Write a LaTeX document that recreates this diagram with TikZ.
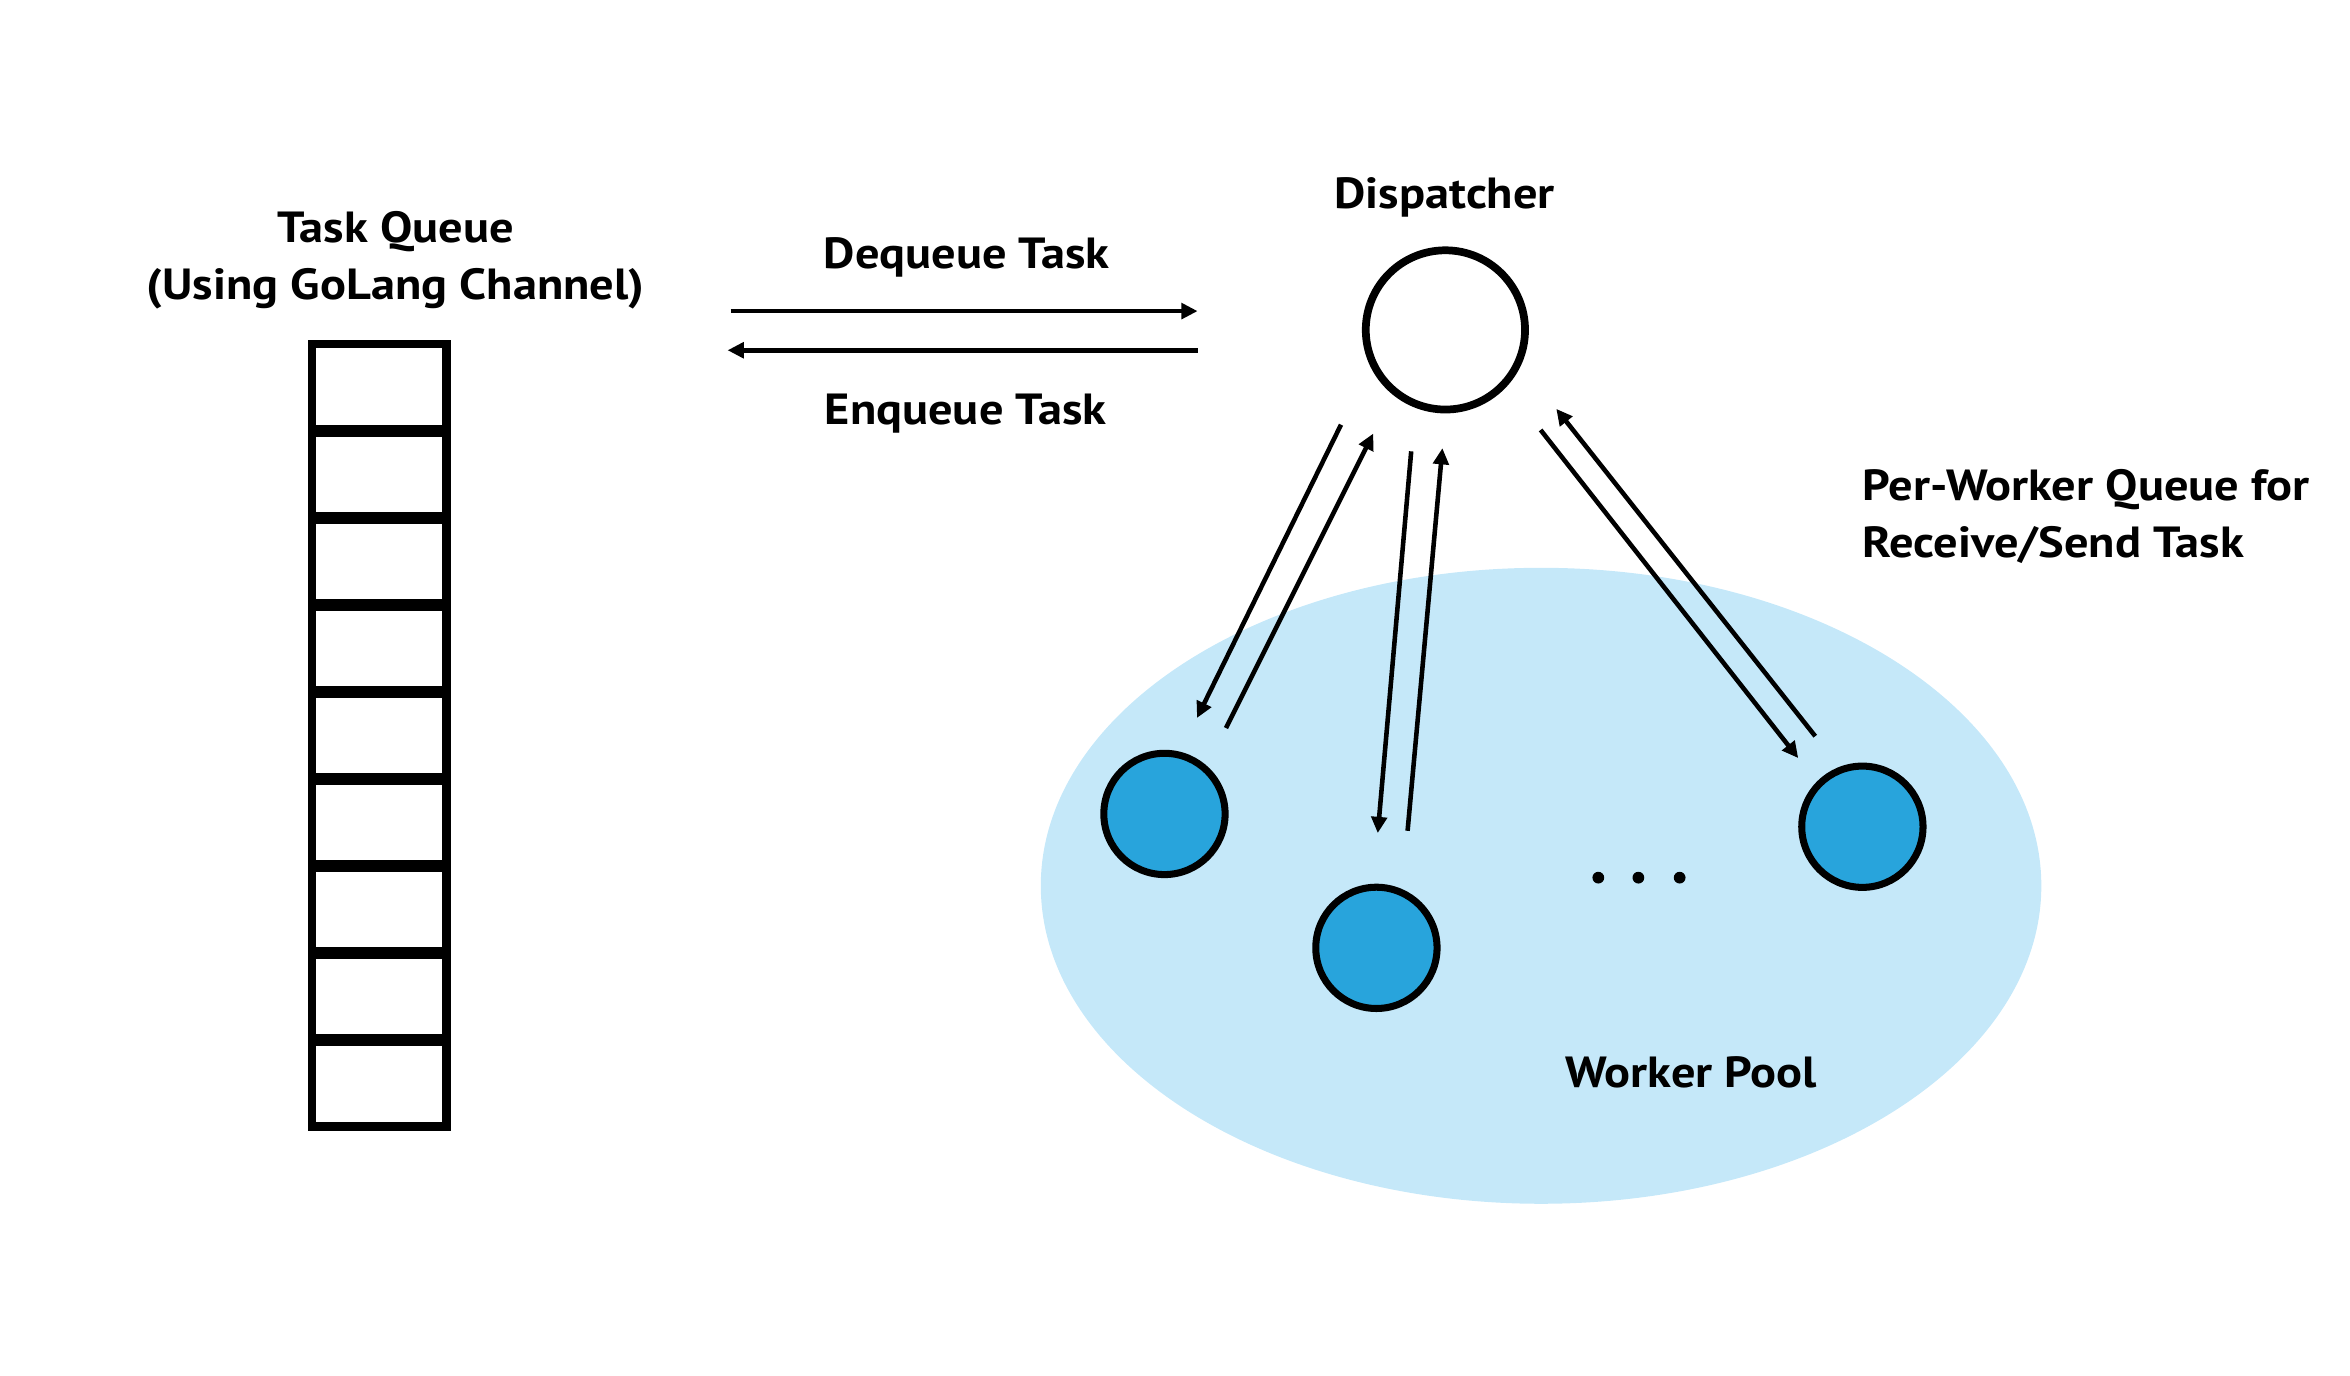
\documentclass[tikz,border=0pt]{standalone}
\usepackage{fontspec}
\setmainfont{PT Sans}[FakeStretch=1.11]
\usetikzlibrary{positioning}
\usetikzlibrary{arrows.meta,shapes.geometric}
\definecolor{poolblue}{HTML}{C5E8F9}
\definecolor{workerblue}{HTML}{28A4DC}
\tikzset{%
  lbl/.style = {font=\bfseries\fontsize{12.4}{16.3}\selectfont,inner sep=0pt},
  taskarrow/.style = {-{Stealth[inset=0pt,length=4.6pt,width=4.4pt]},line width=1.3pt},
  qcell/.style = {rectangle,draw,line width=2.4pt,minimum width=38.3pt,
        minimum height=24.73pt,inner sep=0pt,outer sep=0pt},
  qline/.style = {line width=3.4pt},
  disp/.style = {circle,draw,line width=2.2pt,minimum size=45.3pt,inner sep=0pt},
  worker/.style = {circle,draw,fill=workerblue,line width=2pt,
        minimum size=34.5pt,inner sep=0pt},
  pool/.style = {ellipse,fill=poolblue,minimum width=284.6pt,
        minimum height=180.9pt,inner sep=0pt}
}
\begin{document}
\begin{tikzpicture}[x=0.015064cm,y=-0.015064cm]
                \useasboundingbox (0,0) rectangle (1560,913);
                % task queue
                \node[qcell] (c1) at (251.8,257.25) {};
                \foreach \i [remember=\i as \j (initially 1)] in {2,...,9}{
                    \node[qcell] (c\i) [below=0pt of c\j] {};
                    \draw[qline] (c\j.south west) -- (c\j.south east);
                }
                \node[lbl, align=center, anchor=base] (qlabel) at (262.7,199)
                    {Task Queue\\(Using GoLang Channel)};

                % dispatcher
                \node[disp] (disp) at (959.5,219) {};
                \node[lbl, anchor=base] (displabel) at (959,138.1) {Dispatcher};

                \coordinate (deqA) at (485,206.5);
                \coordinate (deqB) at (795,206.5);
                \coordinate (enqA) at (795,232.5);
                \coordinate (enqB) at (483,232.5);
                \draw[taskarrow] (deqA) -- (deqB);
                \draw[taskarrow] (enqA) -- (enqB);
                \node[lbl, anchor=base] (deqlabel) at (641.7,178.1) {Dequeue Task};
                \node[lbl, anchor=base] (enqlabel) at (641,282) {Enqueue Task};

                % worker pool
                \node[pool] (pool) at (1023,588) {};
                \node[worker] (w1) at (773,540.3) {};
                \node[worker] (w2) at (913.7,629.2) {};
                \node[worker] (w3) at (1236.3,548.8) {};
                \foreach \x in {1061,1087.6,1115}
                    \fill (\x,582.6) circle (3.9);
                \node[lbl, anchor=base] (poollabel) at (1122.8,721.6) {Worker Pool};
                \node[lbl, align=left, anchor=base west] (pwlabel) at (1236,370)
                    {Per-Worker Queue for\\Receive/Send Task};

                % per-worker queues
                \coordinate (d1a) at (890.2,281.9);  \coordinate (d1b) at (794.6,476.6);
                \coordinate (u1a) at (813.8,483.3);  \coordinate (u1b) at (911.6,287.8);
                \coordinate (d2a) at (936.8,299.6);  \coordinate (d2b) at (914.6,553);
                \coordinate (u2a) at (934.4,551.5);  \coordinate (u2b) at (957.5,297.5);
                \coordinate (d3a) at (1022.7,285.4); \coordinate (d3b) at (1193.7,503.2);
                \coordinate (u3a) at (1205,488.7);   \coordinate (u3b) at (1033.1,271.4);
                \foreach \k in {1,2,3}{
                    \draw[taskarrow] (d\k a) -- (d\k b);
                    \draw[taskarrow] (u\k a) -- (u\k b);
                }
            \end{tikzpicture}
\end{document}
